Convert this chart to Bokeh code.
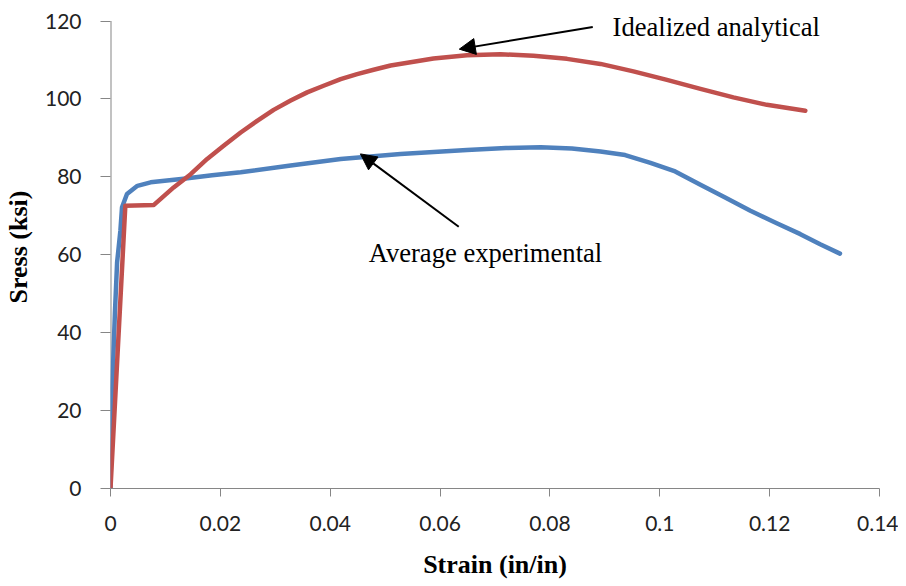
from bokeh.plotting import figure
from bokeh.models import Range1d, FixedTicker, Arrow, NormalHead, Label, ColumnDataSource
from bokeh.embed import file_html
from bokeh.resources import INLINE

# Idealized analytical curve
strain_an = [0, 0.0027, 0.0079, 0.0115, 0.0146, 0.0176, 0.0206, 0.0237, 0.0267, 0.0297,
             0.0328, 0.0358, 0.0388, 0.0419, 0.0449, 0.0479, 0.0510, 0.0588, 0.0649, 0.0710,
             0.0770, 0.0831, 0.0892, 0.0952, 0.1013, 0.1074, 0.1134, 0.1195, 0.1265]
stress_an = [0, 72.6, 72.8, 77.3, 80.7, 84.6, 88.0, 91.4, 94.4, 97.2,
             99.6, 101.7, 103.4, 105.1, 106.4, 107.5, 108.6, 110.4, 111.2, 111.5,
             111.1, 110.3, 109.0, 107.1, 104.9, 102.6, 100.4, 98.5, 97.0]

# Average experimental curve
strain_ex = [0, 0.0003, 0.0008, 0.0012, 0.0018, 0.0021, 0.0030, 0.0049, 0.0073, 0.0133,
             0.0185, 0.0237, 0.0328, 0.0419, 0.0528, 0.0649, 0.0720, 0.0783, 0.0840, 0.0892,
             0.0937, 0.0983, 0.1028, 0.1074, 0.1119, 0.1165, 0.1210, 0.1256, 0.1292, 0.1328]
stress_ex = [0, 25, 45, 58, 66.2, 72.2, 75.6, 77.7, 78.6, 79.5,
             80.4, 81.2, 82.9, 84.6, 85.9, 86.9, 87.4, 87.6, 87.3, 86.5,
             85.6, 83.6, 81.4, 78.0, 74.7, 71.3, 68.3, 65.3, 62.7, 60.3]

x_ticks = [0, 0.02, 0.04, 0.06, 0.08, 0.10, 0.12, 0.14]
x_tick_labels = ["0", "0.02", "0.04", "0.06", "0.08", "0.1", "0.12", "0.14"]
y_ticks = [0, 20, 40, 60, 80, 100, 120]
y_tick_labels = ["0", "20", "40", "60", "80", "100", "120"]

AXIS_GREY = "#868686"

# y range extends a little above the last tick so the top annotation is not clipped;
# the visible y axis line is drawn only from the first to the last tick.
p = figure(width=898, height=586, x_range=Range1d(0, 0.14), y_range=Range1d(0, 124),
           output_backend="svg", toolbar_location=None,
           min_border_left=110, min_border_right=19, min_border_top=5, min_border_bottom=98)
p.outline_line_color = None
p.grid.visible = False
p.background_fill_color = "white"

p.segment(x0=[x_ticks[0]], y0=[y_ticks[0]], x1=[x_ticks[0]], y1=[y_ticks[-1]],
          line_color=AXIS_GREY, line_width=2)

ex_src = ColumnDataSource(dict(x=strain_ex, y=stress_ex))
an_src = ColumnDataSource(dict(x=strain_an, y=stress_an))
p.line("x", "y", source=ex_src, line_color="#4F81BD", line_width=4.5,
       line_join="round", line_cap="round")
p.line("x", "y", source=an_src, line_color="#C0504D", line_width=4.5,
       line_join="round", line_cap="round")

for ax in (p.xaxis[0], p.yaxis[0]):
    ax.axis_line_color = AXIS_GREY
    ax.major_tick_line_color = AXIS_GREY
    ax.minor_tick_line_color = None
    ax.major_tick_in = 0
    ax.major_label_text_font = "Lato"
    ax.major_label_text_font_size = "21px"
    ax.major_label_text_color = "#222222"
    ax.axis_label_text_font = "Liberation Serif"
    ax.axis_label_text_font_style = "bold"
    ax.axis_label_text_font_size = "26px"
    ax.axis_label_text_color = "black"

p.yaxis.axis_line_color = None

p.xaxis.ticker = FixedTicker(ticks=x_ticks)
p.xaxis.major_label_overrides = dict(zip(x_ticks, x_tick_labels))
p.yaxis.ticker = FixedTicker(ticks=y_ticks)
p.yaxis.major_label_overrides = dict(zip(y_ticks, y_tick_labels))

p.xaxis.major_tick_out = 8
p.xaxis.major_label_standoff = 19
p.xaxis.axis_label = "Strain (in/in)"
p.xaxis.axis_label_standoff = 16

p.yaxis.major_tick_out = 10
p.yaxis.major_label_standoff = 19
p.yaxis.axis_label = "Sress (ksi)"
p.yaxis.axis_label_standoff = 9

p.add_layout(Arrow(end=NormalHead(size=16, fill_color="black", line_color="black"),
                   x_start=0.0878, y_start=118.5, x_end=0.0635, y_end=112.8,
                   line_width=2, line_color="black"))
p.add_layout(Arrow(end=NormalHead(size=16, fill_color="black", line_color="black"),
                   x_start=0.0634, y_start=67.2, x_end=0.0455, y_end=85.9,
                   line_width=2, line_color="black"))

p.add_layout(Label(x=0.0914, y=118.4, text="Idealized analytical",
                   text_font="Liberation Serif", text_font_size="26.6px",
                   text_baseline="alphabetic", text_align="left", text_color="black"))
p.add_layout(Label(x=0.0470, y=60.5, text="Average experimental",
                   text_font="Liberation Serif", text_font_size="26.6px",
                   text_baseline="alphabetic", text_align="left", text_color="black"))

open("out.html", "w").write(file_html(p, INLINE))
